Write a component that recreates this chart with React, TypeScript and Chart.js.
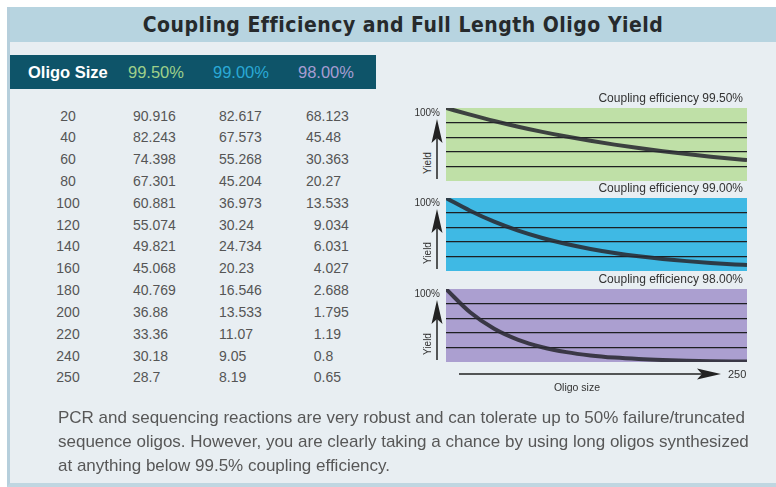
import React, { useEffect, useRef } from 'react';
import { Chart, registerables } from 'chart.js';

Chart.register(...registerables);

// ---- data ----
const oligoSizes = [20, 40, 60, 80, 100, 120, 140, 160, 180, 200, 220, 240, 250];
const yield995 = [90.916, 82.243, 74.398, 67.301, 60.881, 55.074, 49.821, 45.068, 40.769, 36.88, 33.36, 30.18, 28.7];
const yield990 = [82.617, 67.573, 55.268, 45.204, 36.973, 30.24, 24.734, 20.23, 16.546, 13.533, 11.07, 9.05, 8.19];
const yield980 = [68.123, 45.48, 30.363, 20.27, 13.533, 9.034, 6.031, 4.027, 2.688, 1.795, 1.19, 0.8, 0.65];
const efficiencyLabels = ['99.50%', '99.00%', '98.00%'];
const startSize = 0;
const startYield = 100;
const xMin = 0;
const xMax = 250;
const yMin = 0;
const yMax = 100;
const yStep = 20;

const TITLE = 'Coupling Efficiency and Full Length Oligo Yield';
const PARAGRAPH = [
  'PCR and sequencing reactions are very robust and can tolerate up to 50% failure/truncated',
  'sequence oligos. However, you are clearly taking a chance by using long oligos synthesized',
  'at anything below 99.5% coupling efficiency.',
];

const SANS = "'Liberation Sans', Arial, Helvetica, sans-serif";
const PLOT_LEFT = 446;
const PLOT_W = 301;
const PLOT_H = 73;
const PAD = 4;

function YieldChart({ values, fill, top }: { values: number[]; fill: string; top: number }) {
  const ref = useRef<HTMLCanvasElement>(null);
  useEffect(() => {
    const points = [{ x: startSize, y: startYield }, ...oligoSizes.map((s, i) => ({ x: s, y: values[i] }))];
    const chart = new Chart(ref.current as HTMLCanvasElement, {
      type: 'line',
      data: {
        datasets: [
          {
            data: points,
            borderColor: 'rgba(42,42,50,0.88)',
            borderWidth: 4,
            pointRadius: 0,
            cubicInterpolationMode: 'monotone',
            fill: false,
          } as any,
        ],
      },
      options: {
        animation: false,
        responsive: false,
        events: [],
        layout: { padding: PAD },
        plugins: { legend: { display: false }, tooltip: { enabled: false }, title: { display: false } },
        scales: {
          x: { type: 'linear', min: xMin, max: xMax, display: false },
          y: {
            type: 'linear',
            min: yMin,
            max: yMax,
            ticks: { stepSize: yStep, display: false },
            border: { display: false },
            grid: {
              drawTicks: false,
              lineWidth: 1.3,
              color: (c: any) =>
                c.tick && (c.tick.value === yMin || c.tick.value === yMax) ? 'rgba(0,0,0,0)' : '#1d1f22',
            },
            afterFit: (s: any) => {
              s.width = 0;
            },
          },
        },
      } as any,
      plugins: [
        {
          id: 'plotBg',
          beforeDraw(c: any) {
            const { ctx, chartArea: a } = c;
            ctx.save();
            ctx.fillStyle = fill;
            ctx.fillRect(a.left, a.top, a.right - a.left, a.bottom - a.top);
            ctx.restore();
          },
        },
      ],
    });
    return () => chart.destroy();
  }, [values, fill]);
  return (
    <canvas
      ref={ref}
      width={PLOT_W + PAD * 2}
      height={PLOT_H + PAD * 2}
      style={{ position: 'absolute', left: PLOT_LEFT - PAD, top: top - PAD, width: PLOT_W + PAD * 2, height: PLOT_H + PAD * 2 }}
    />
  );
}

function ChartLabels({ top, label }: { top: number; label: string }) {
  const small: React.CSSProperties = { position: 'absolute', fontFamily: SANS, fontSize: 10, color: '#333', lineHeight: '12px', whiteSpace: 'nowrap' };
  return (
    <>
      <div style={{ ...small, fontSize: 12, right: 776 - 743, top: top - 16, textAlign: 'right' }}>{'Coupling efficiency  ' + label}</div>
      <div style={{ ...small, right: 776 - 440, top: top - 1, textAlign: 'right' }}>100%</div>
      <div
        style={{
          ...small,
          left: 428 - 20,
          top: top + 55 - 6,
          width: 40,
          textAlign: 'center',
          transform: 'rotate(-90deg)',
        }}
      >
        Yield
      </div>
      <svg style={{ position: 'absolute', left: 0, top: 0 }} width={776} height={487}>
        <line x1={437} y1={top + 71} x2={437} y2={top + 26} stroke="#222" strokeWidth={1.5} />
        <polygon points={`437,${top + 11} 442.5,${top + 35} 437,${top + 30} 431.5,${top + 35}`} fill="#222" />
      </svg>
    </>
  );
}

export default function App() {
  const tops = [108, 198, 289];
  const fills = ['#bfe0a7', '#3fb9e4', '#ab9fd0'];
  const series = [yield995, yield990, yield980];
  const headColors = ['#9fd08a', '#2aa9d6', '#a79dd2'];
  const rowStep = 21.83;
  const firstRowCenter = 115.5;
  const colLeft = [133, 219, 306];
  const digitW = 7.8;

  return (
    <div style={{ position: 'absolute', left: 0, top: 0, width: 776, height: 487, overflow: 'hidden', background: '#ffffff' }}>
      {/* panel */}
      <div
        style={{
          position: 'absolute',
          left: 7,
          top: 7,
          width: 800,
          height: 476,
          background: '#e8eef2',
          borderLeft: '3px solid #b6cfdc',
          borderBottom: '4px solid #bfd6e1',
        }}
      />
      {/* title bar */}
      <div style={{ position: 'absolute', left: 10, top: 7, width: 800, height: 35, background: '#b7d4e0' }} />
      <div
        style={{
          position: 'absolute',
          left: 103,
          width: 600,
          top: 11,
          height: 28,
          lineHeight: '28px',
          textAlign: 'center',
          fontFamily: "'DejaVu Sans Condensed', 'DejaVu Sans', sans-serif",
          fontStretch: 'condensed',
          fontWeight: 'bold',
          fontSize: 21,
          letterSpacing: 0.5,
          color: '#262a2c',
          whiteSpace: 'nowrap',
        }}
      >
        {TITLE}
      </div>

      {/* table header */}
      <div style={{ position: 'absolute', left: 10, top: 55, width: 366, height: 34, background: '#0e5469' }} />
      <div style={{ position: 'absolute', left: 28, top: 62, lineHeight: '20px', fontFamily: SANS, fontWeight: 'bold', fontSize: 16.5, color: '#ffffff', whiteSpace: 'nowrap' }}>
        Oligo Size
      </div>
      {efficiencyLabels.map((l, i) => (
        <div
          key={l}
          style={{ position: 'absolute', left: [128, 213, 298][i], top: 62, lineHeight: '20px', fontFamily: SANS, fontSize: 16.5, color: headColors[i], whiteSpace: 'nowrap' }}
        >
          {l}
        </div>
      ))}

      {/* table rows */}
      {oligoSizes.map((s, r) => {
        const y = firstRowCenter + r * rowStep - 9;
        const cell: React.CSSProperties = { position: 'absolute', top: y, lineHeight: '18px', fontFamily: SANS, fontSize: 14, color: '#555', whiteSpace: 'nowrap' };
        return (
          <React.Fragment key={s}>
            <div style={{ ...cell, left: 38, width: 60, textAlign: 'center' }}>{s}</div>
            {series.map((vals, c) => (
              <div key={c} style={{ ...cell, left: colLeft[c] + (c === 2 && vals[r] < 10 ? digitW : 0) }}>
                {String(vals[r])}
              </div>
            ))}
          </React.Fragment>
        );
      })}

      {/* charts */}
      {series.map((vals, i) => (
        <React.Fragment key={i}>
          <YieldChart values={vals} fill={fills[i]} top={tops[i]} />
          <ChartLabels top={tops[i]} label={efficiencyLabels[i]} />
        </React.Fragment>
      ))}

      {/* x arrow */}
      <svg style={{ position: 'absolute', left: 0, top: 0 }} width={776} height={487}>
        <line x1={459} y1={374} x2={704} y2={374} stroke="#222" strokeWidth={1.5} />
        <polygon points="721,374 697,368.5 702,374 697,379.5" fill="#222" />
      </svg>
      <div style={{ position: 'absolute', left: 728, top: 368, lineHeight: '12px', fontFamily: SANS, fontSize: 11, color: '#333' }}>{xMax}</div>
      <div style={{ position: 'absolute', left: 537, width: 80, top: 381, lineHeight: '12px', textAlign: 'center', fontFamily: SANS, fontSize: 10.5, color: '#333' }}>
        Oligo size
      </div>

      {/* paragraph */}
      {PARAGRAPH.map((line, i) => (
        <div
          key={i}
          style={{
            position: 'absolute',
            left: 58,
            top: 418 + i * 24 - 11,
            lineHeight: '22px',
            fontFamily: SANS,
            fontSize: 17,
            color: '#575757',
            whiteSpace: 'nowrap',
          }}
        >
          {line}
        </div>
      ))}
    </div>
  );
}
